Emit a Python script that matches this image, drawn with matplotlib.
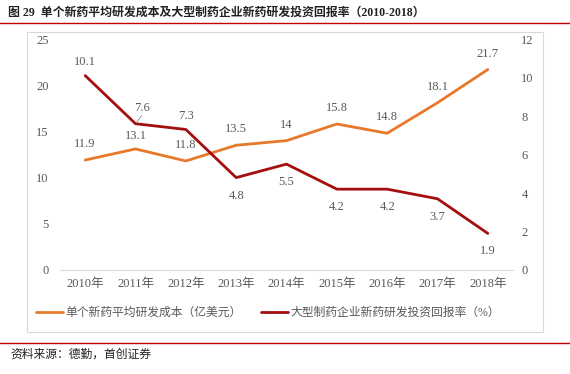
import matplotlib.pyplot as plt
from matplotlib.patches import Rectangle
from matplotlib.lines import Line2D

plt.rcParams['font.family'] = ['Liberation Serif', 'Noto Sans CJK SC']

years = ['2010年', '2011年', '2012年', '2013年', '2014年', '2015年', '2016年', '2017年', '2018年']
cost = [11.9, 13.1, 11.8, 13.5, 14, 15.8, 14.8, 18.1, 21.7]
roi = [10.1, 7.6, 7.3, 4.8, 5.5, 4.2, 4.2, 3.7, 1.9]
cost_lbl = ['11.9', '13.1', '11.8', '13.5', '14', '15.8', '14.8', '18.1', '21.7']
roi_lbl = ['10.1', '7.6', '7.3', '4.8', '5.5', '4.2', '4.2', '3.7', '1.9']
roi_above = [True, True, True, False, False, False, False, False, False]

c_orange = '#E8792B'
c_red = '#A50E0E'
c_txt = '#595959'

fig = plt.figure(figsize=(5.7, 3.74), dpi=100)

# outer box and rules
fig.patches.append(Rectangle((27/570, 1-332/374), (543-27)/570, (332-32)/374,
                             transform=fig.transFigure, fill=False,
                             edgecolor='#D9D9D9', lw=0.8))
fig.lines.append(Line2D([0, 1], [1-23/374]*2, transform=fig.transFigure,
                        color='#C00000', lw=1.0))
fig.lines.append(Line2D([0, 1], [1-343/374]*2, transform=fig.transFigure,
                        color='#C00000', lw=1.0))
fig.text(0.014, 1-13/374, '图 29  单个新药平均研发成本及大型制药企业新药研发投资回报率（2010-2018）',
         fontsize=8.6, fontweight='bold', va='center', ha='left', color='#222222')
fig.text(0.018, 1-355/374, '资料来源：德勤，首创证券', fontsize=8.5, style='italic',
         va='center', ha='left', color='#222222')

ax = fig.add_axes([60/570, 1-270/374, (513-60)/570, (270-39)/374])
ax2 = ax.twinx()
x = list(range(len(years)))

l1, = ax.plot(x, cost, color=c_orange, lw=2.0, solid_capstyle='round',
              label='单个新药平均研发成本（亿美元）')
l2, = ax2.plot(x, roi, color=c_red, lw=2.0, solid_capstyle='round',
               label='大型制药企业新药研发投资回报率（%）')

for i, v in enumerate(cost):
    dy = 9 if i == 1 else 11.5
    ax.annotate(cost_lbl[i], (i, v), xytext=(0, dy), textcoords='offset points',
                ha='center', va='center', fontsize=9, color=c_txt)
for i, v in enumerate(roi):
    dy = 10 if roi_above[i] else -13
    dx = 4.5 if i == 1 else 0
    if i == 1:
        dy = 11.5
    ax2.annotate(roi_lbl[i], (i, v), xytext=(dx, dy), textcoords='offset points',
                 ha='center', va='center', fontsize=9, color=c_txt)
# small leader line for the 2011 label
ax2.annotate('', xy=(1, roi[1]), xytext=(4.5, 6), textcoords='offset points',
             arrowprops=dict(arrowstyle='-', color='#909090', lw=0.6,
                             shrinkA=0, shrinkB=1))

ax.set_xlim(-0.5, len(years) - 0.5)
ax.set_ylim(0, 25)
ax2.set_ylim(0, 12)
ax.set_yticks([0, 5, 10, 15, 20, 25])
ax2.set_yticks([0, 2, 4, 6, 8, 10, 12])
ax.set_xticks(x)
ax.set_xticklabels(years)

for a in (ax, ax2):
    for s in a.spines.values():
        s.set_visible(False)
    a.tick_params(length=0, labelsize=9, colors=c_txt)
ax.spines['bottom'].set_visible(True)
ax.spines['bottom'].set_color('#D9D9D9')
ax.tick_params(axis='y', pad=8)
ax2.tick_params(axis='y', pad=6)
ax.tick_params(axis='x', pad=6)

fig.legend(handles=[l1, l2], loc='center', bbox_to_anchor=(0.47, 1-313/374),
           ncol=2, frameon=False, fontsize=8.5, handlelength=2.3, handletextpad=0.2,
           columnspacing=1.6, labelcolor=c_txt)

fig.savefig('out.png', dpi=100)
